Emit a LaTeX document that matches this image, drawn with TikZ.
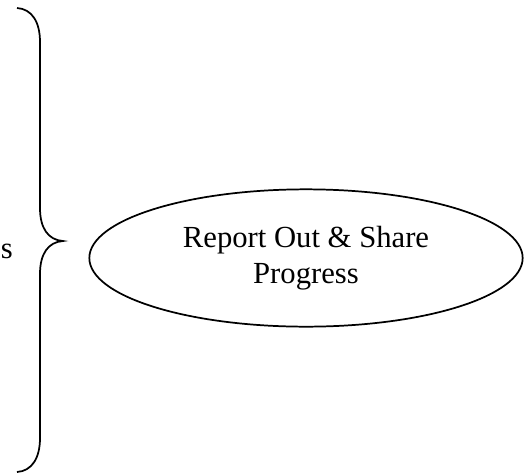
\documentclass[tikz,border=0pt]{standalone}
\usepackage{fontspec}
\setmainfont{Liberation Serif}
\usetikzlibrary{shapes.geometric}

\begin{document}
\begin{tikzpicture}[
  x=0.75pt, y=-0.75pt,
  line width=1.3pt,
  every node/.style={font=\fontsize{23}{27}\selectfont},
  goalbox/.style={ellipse, draw=black, minimum width=325pt, minimum height=103pt,
    inner sep=0pt, align=center}
]
\useasboundingbox (0,0) rectangle (524,475);
% curly brace grouping the items on the left
\coordinate (tip) at (63,241);
\draw (17,8) .. controls (32,9) and (40,22) .. (40,42) -- (40,208)
  .. controls (40,228) and (48,240) .. (tip)
  .. controls (48,242) and (40,254) .. (40,274) -- (40,438)
  .. controls (40,458) and (32,471) .. (17,472);
\node[anchor=base west, inner sep=0pt] (s0) at (0,258) {s};
\node[goalbox] (n0) at (306,258) {Report Out \& Share\\Progress};
\end{tikzpicture}
\end{document}
